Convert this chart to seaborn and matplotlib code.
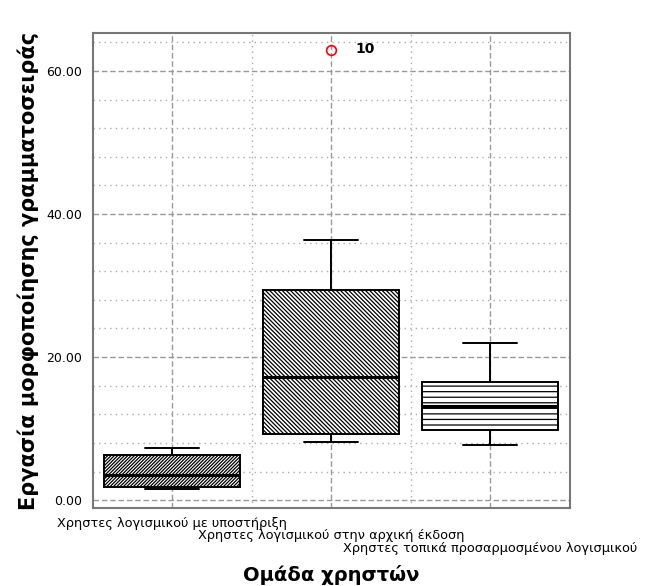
import numpy as np
import pandas as pd
import matplotlib
matplotlib.use("Agg")
import matplotlib.pyplot as plt
from matplotlib.ticker import MultipleLocator, FixedLocator, FormatStrFormatter
import seaborn as sns

# ── Data (whisker ends, quartiles, median, outlier) ──
groups = [
    "Χρηστες λογισμικού με υποστήριξη",
    "Χρηστες λογισμικού στην αρχική έκδοση",
    "Χρηστες τοπικά προσαρμοσμένου λογισμικού",
]
group1_vals = [1.5, 1.8, 3.5, 6.3, 7.3]
group2_vals = [8.1, 8.6, 9.2, 13.0, 17.2, 24.0, 29.4, 36.4, 62.9]
group3_vals = [7.7, 9.8, 13.1, 16.5, 22.0]
outlier_case = "10"
y_ticks = [0, 20, 40, 60]

df = pd.DataFrame({
    "group": [groups[0]] * len(group1_vals) + [groups[1]] * len(group2_vals)
             + [groups[2]] * len(group3_vals),
    "value": group1_vals + group2_vals + group3_vals,
})

# ── Style ─────────────────────────────────────────────────────────────────────
sns.set_style("white")
plt.rcParams["font.family"] = ["DejaVu Sans"]
plt.rcParams["hatch.linewidth"] = 0.9

fig = plt.figure(figsize=(6.52, 5.86), dpi=100)
ax = fig.add_axes([0.1426, 0.1331, 0.7314, 0.8106])

sns.boxplot(
    data=df, x="group", y="value", order=groups, ax=ax,
    color="white", linecolor="black", linewidth=1.4, width=0.855,
    medianprops={"linewidth": 2.2},
    flierprops={"marker": "o", "markerfacecolor": "none",
                "markeredgecolor": "red", "markersize": 7,
                "markeredgewidth": 1.2},
    capwidths=0.34,
)

# diagonal hatches come out at ~100/(3n) px spacing, horizontal at 100/(6n)
hatches = ["/" * 10, "\\" * 8, "---"]
for patch, h in zip(ax.patches, hatches):
    patch.set_hatch(h)
    patch.set_facecolor("white")
    patch.set_edgecolor("black")

ax.annotate(outlier_case, xy=(1, max(group2_vals)), xytext=(17, 1),
            textcoords="offset points", fontsize=10, fontweight="bold",
            va="center", ha="left", color="black")

# ── Axes, grid ────────────────────────────────────────────────────────────────
ax.set_xlim(-0.5, 2.5)
ax.set_ylim(-1.1, 65.3)
ax.set_yticks(y_ticks)
ax.yaxis.set_major_formatter(FormatStrFormatter("%.2f"))
ax.yaxis.set_minor_locator(MultipleLocator(4))
ax.xaxis.set_minor_locator(FixedLocator([0.5, 1.5]))
ax.set_axisbelow(True)
ax.grid(which="major", color="#999999", linestyle=(0, (4, 2)), linewidth=1)
ax.grid(which="minor", color="#aaaaaa", linestyle=(0, (1, 3)), linewidth=1)
ax.tick_params(which="minor", length=0)
ax.tick_params(which="major", length=6, width=2, color="#555555",
               labelsize=9, labelcolor="black", direction="out")
ax.tick_params(axis="y", pad=2)
for sp in ax.spines.values():
    sp.set_color("#777777")
    sp.set_linewidth(1.5)

# staggered category labels
ax.set_xticklabels([])
for i, lab in enumerate(groups):
    ax.text(i, -0.018 - i * 0.027, lab, transform=ax.get_xaxis_transform(),
            ha="center", va="top", fontsize=9.3, color="black")

ax.set_xlabel("Ομάδα χρηστών", fontsize=14, fontweight="bold", color="black")
ax.xaxis.set_label_coords(0.5, -0.12)
ax.set_ylabel("Εργασία μορφοποίησης γραμματοσειράς", fontsize=15,
              fontweight="bold", color="black", labelpad=5)

plt.savefig("out.png", dpi=100)
